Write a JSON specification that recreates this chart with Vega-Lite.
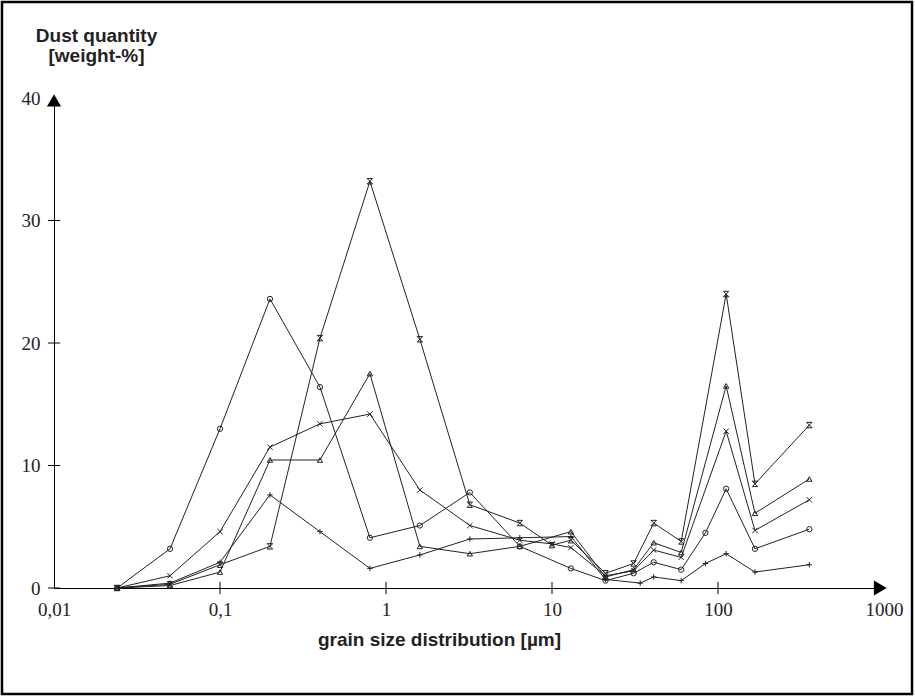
{
  "$schema": "https://vega.github.io/schema/vega-lite/v6.json",
  "autosize": "none",
  "width": 830,
  "height": 490,
  "padding": {"left": 54, "top": 98, "right": 31, "bottom": 109},
  "background": "white",
  "config": {"view": {"stroke": null}},
  "datasets": {
    "dust": [
      {"s": "circle", "g": 0.024, "q": 0}, {"s": "circle", "g": 0.05, "q": 3.2}, {"s": "circle", "g": 0.1, "q": 13.0}, {"s": "circle", "g": 0.2, "q": 23.6}, {"s": "circle", "g": 0.4, "q": 16.4}, {"s": "circle", "g": 0.8, "q": 4.1}, {"s": "circle", "g": 1.6, "q": 5.1}, {"s": "circle", "g": 3.2, "q": 7.8}, {"s": "circle", "g": 6.4, "q": 3.4}, {"s": "circle", "g": 13, "q": 1.6}, {"s": "circle", "g": 21, "q": 0.6}, {"s": "circle", "g": 31, "q": 1.2}, {"s": "circle", "g": 41, "q": 2.1}, {"s": "circle", "g": 60, "q": 1.5}, {"s": "circle", "g": 84, "q": 4.5}, {"s": "circle", "g": 112, "q": 8.1}, {"s": "circle", "g": 167, "q": 3.2}, {"s": "circle", "g": 355, "q": 4.8},
      {"s": "triangle", "g": 0.024, "q": 0}, {"s": "triangle", "g": 0.05, "q": 0.2}, {"s": "triangle", "g": 0.1, "q": 1.3}, {"s": "triangle", "g": 0.2, "q": 10.45}, {"s": "triangle", "g": 0.4, "q": 10.45}, {"s": "triangle", "g": 0.8, "q": 17.5}, {"s": "triangle", "g": 1.6, "q": 3.4}, {"s": "triangle", "g": 3.2, "q": 2.8}, {"s": "triangle", "g": 6.4, "q": 3.4}, {"s": "triangle", "g": 13, "q": 4.6}, {"s": "triangle", "g": 21, "q": 0.9}, {"s": "triangle", "g": 31, "q": 1.5}, {"s": "triangle", "g": 41, "q": 3.7}, {"s": "triangle", "g": 60, "q": 2.9}, {"s": "triangle", "g": 112, "q": 16.5}, {"s": "triangle", "g": 167, "q": 6.1}, {"s": "triangle", "g": 355, "q": 8.9},
      {"s": "x", "g": 0.024, "q": 0}, {"s": "x", "g": 0.05, "q": 1.0}, {"s": "x", "g": 0.1, "q": 4.6}, {"s": "x", "g": 0.2, "q": 11.5}, {"s": "x", "g": 0.4, "q": 13.4}, {"s": "x", "g": 0.8, "q": 14.2}, {"s": "x", "g": 1.6, "q": 8.0}, {"s": "x", "g": 3.2, "q": 5.1}, {"s": "x", "g": 6.4, "q": 3.9}, {"s": "x", "g": 10, "q": 3.6}, {"s": "x", "g": 13, "q": 3.3}, {"s": "x", "g": 21, "q": 1.0}, {"s": "x", "g": 31, "q": 1.4}, {"s": "x", "g": 41, "q": 3.1}, {"s": "x", "g": 60, "q": 2.5}, {"s": "x", "g": 112, "q": 12.8}, {"s": "x", "g": 167, "q": 4.7}, {"s": "x", "g": 355, "q": 7.2},
      {"s": "star", "g": 0.024, "q": 0}, {"s": "star", "g": 0.05, "q": 0.3}, {"s": "star", "g": 0.1, "q": 1.9}, {"s": "star", "g": 0.2, "q": 3.4}, {"s": "star", "g": 0.4, "q": 20.4}, {"s": "star", "g": 0.8, "q": 33.2}, {"s": "star", "g": 1.6, "q": 20.3}, {"s": "star", "g": 3.2, "q": 6.8}, {"s": "star", "g": 6.4, "q": 5.3}, {"s": "star", "g": 10, "q": 3.5}, {"s": "star", "g": 13, "q": 3.9}, {"s": "star", "g": 21, "q": 1.2}, {"s": "star", "g": 31, "q": 2.0}, {"s": "star", "g": 41, "q": 5.3}, {"s": "star", "g": 60, "q": 3.8}, {"s": "star", "g": 112, "q": 24.0}, {"s": "star", "g": 167, "q": 8.5}, {"s": "star", "g": 355, "q": 13.3},
      {"s": "plus", "g": 0.024, "q": 0}, {"s": "plus", "g": 0.05, "q": 0.4}, {"s": "plus", "g": 0.1, "q": 2.1}, {"s": "plus", "g": 0.2, "q": 7.6}, {"s": "plus", "g": 0.4, "q": 4.6}, {"s": "plus", "g": 0.8, "q": 1.6}, {"s": "plus", "g": 1.6, "q": 2.7}, {"s": "plus", "g": 3.2, "q": 4.0}, {"s": "plus", "g": 6.4, "q": 4.1}, {"s": "plus", "g": 13, "q": 4.2}, {"s": "plus", "g": 21, "q": 0.7}, {"s": "plus", "g": 34, "q": 0.4}, {"s": "plus", "g": 41, "q": 0.9}, {"s": "plus", "g": 60, "q": 0.6}, {"s": "plus", "g": 84, "q": 2.0}, {"s": "plus", "g": 112, "q": 2.8}, {"s": "plus", "g": 167, "q": 1.3}, {"s": "plus", "g": 355, "q": 1.9}
    ],
    "xticks": [{"v": 0.1}, {"v": 1}, {"v": 10}, {"v": 100}],
    "yticks": [{"v": 0}, {"v": 10}, {"v": 20}, {"v": 30}]
  },
  "layer": [
    {
      "data": {"values": [{}]},
      "mark": {"type": "rect", "fill": null, "stroke": "black", "strokeWidth": 2.5},
      "encoding": {
        "x": {"datum": 0.00486, "type": "quantitative", "scale": {"type": "log", "domain": [0.01, 1000], "nice": false}},
        "x2": {"datum": 1475},
        "y": {"datum": 47.84, "type": "quantitative", "scale": {"domain": [0, 40], "nice": false}},
        "y2": {"datum": -8.65}
      }
    },
    {
      "data": {"name": "xticks"},
      "mark": {"type": "rule", "stroke": "black", "strokeWidth": 1},
      "encoding": {
        "x": {"field": "v", "type": "quantitative"},
        "y": {"datum": -0.5, "type": "quantitative"},
        "y2": {"datum": 0.5}
      }
    },
    {
      "data": {"name": "yticks"},
      "mark": {"type": "rule", "stroke": "black", "strokeWidth": 1},
      "encoding": {
        "y": {"field": "v", "type": "quantitative"},
        "x": {"datum": 0.0092, "type": "quantitative"},
        "x2": {"datum": 0.0109}
      }
    },
    {
      "data": {"values": [{"g": 950, "q": 0}]},
      "mark": {"type": "point", "shape": "triangle-right", "filled": true, "color": "black", "size": 220, "opacity": 1},
      "encoding": {
        "x": {"field": "g", "type": "quantitative"},
        "y": {"field": "q", "type": "quantitative"}
      }
    },
    {
      "data": {"values": [{"g": 0.01, "q": 39.8}]},
      "mark": {"type": "point", "shape": "triangle-up", "filled": true, "color": "black", "size": 200, "opacity": 1},
      "encoding": {
        "x": {"field": "g", "type": "quantitative"},
        "y": {"field": "q", "type": "quantitative"}
      }
    },
    {
      "data": {"name": "dust"},
      "mark": {"type": "line", "color": "#222", "strokeWidth": 1},
      "encoding": {
        "x": {
          "field": "g", "type": "quantitative",
          "scale": {"type": "log", "domain": [0.01, 1000], "nice": false},
          "axis": {
            "values": [0.01, 0.1, 1, 10, 100, 1000],
            "labelExpr": "replace(format(datum.value, '~g'), '.', ',')",
            "ticks": false, "tickSize": 0, "grid": false,
            "domainColor": "black", "domainWidth": 1,
            "labelFont": "Liberation Serif", "labelFontSize": 19, "labelColor": "#222",
            "labelPadding": 12, "labelFlush": false, "labelOverlap": false,
            "title": "grain size distribution [µm]",
            "titleFont": "Liberation Sans", "titleFontSize": 19, "titleFontWeight": "bold", "titleColor": "#222",
            "titleX": 385, "titleY": 42, "titleAnchor": null, "titleAlign": "center", "titleBaseline": "top"
          }
        },
        "y": {
          "field": "q", "type": "quantitative",
          "scale": {"domain": [0, 40], "nice": false},
          "axis": {
            "values": [0, 10, 20, 30, 40],
            "ticks": false, "tickSize": 0, "grid": false,
            "domainColor": "black", "domainWidth": 1,
            "labelFont": "Liberation Serif", "labelFontSize": 19, "labelColor": "#222",
            "labelPadding": 14, "labelFlush": false, "labelOverlap": false,
            "title": ["Dust quantity", "[weight-%]"],
            "titleFont": "Liberation Sans", "titleFontSize": 19, "titleFontWeight": "bold", "titleColor": "#222",
            "titleAngle": 0, "titleX": 42, "titleY": -72, "titleAlign": "center", "titleBaseline": "top", "titleLineHeight": 20
          }
        },
        "detail": {"field": "s"}
      }
    },
    {
      "data": {"name": "dust"},
      "mark": {"type": "point", "filled": false, "stroke": "#222", "strokeWidth": 1, "opacity": 1},
      "encoding": {
        "x": {"field": "g", "type": "quantitative"},
        "y": {"field": "q", "type": "quantitative"},
        "shape": {
          "field": "s", "type": "nominal", "legend": null,
          "scale": {
            "domain": ["circle", "triangle", "x", "star", "plus"],
            "range": ["circle", "triangle-up", "M-1,-1L1,1M-1,1L1,-1", "M-1,-1L1,1M-1,1L1,-1M-1,-1L1,-1M-1,1L1,1", "M-1,0L1,0M0,-1L0,1"]
          }
        },
        "size": {
          "field": "s", "type": "nominal", "legend": null,
          "scale": {"domain": ["circle", "triangle", "x", "star", "plus"], "range": [28, 30, 60, 70, 70]}
        }
      }
    }
  ]
}
